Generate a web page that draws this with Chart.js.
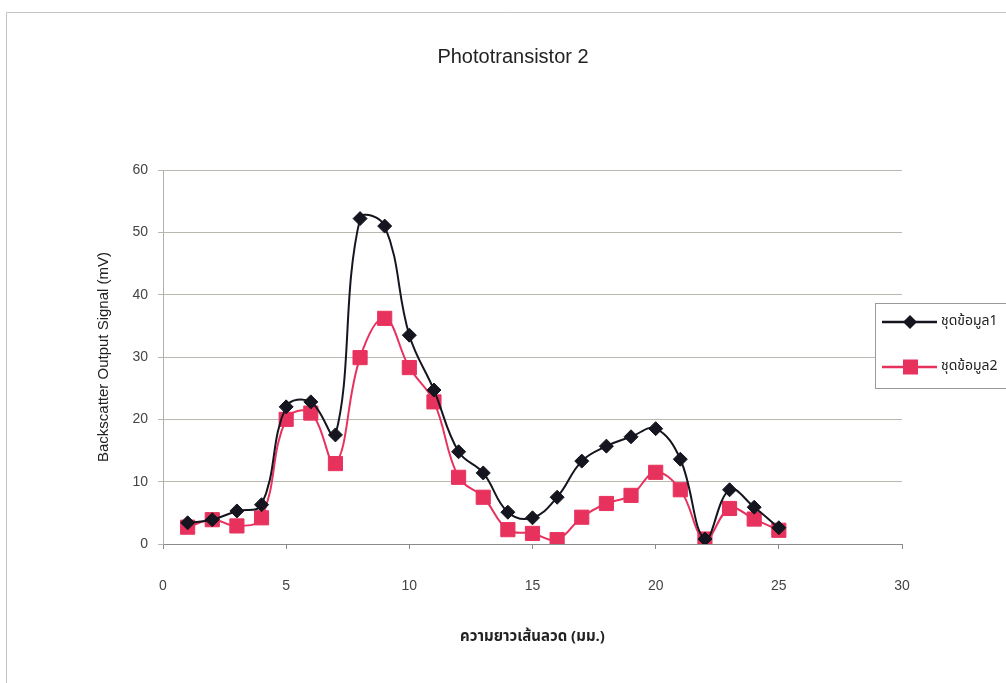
<!DOCTYPE html>
<html>
<head>
<meta charset="utf-8">
<script src="https://cdn.jsdelivr.net/npm/chart.js@4.4.1/dist/chart.umd.min.js"></script>
<style>
  html, body { margin: 0; padding: 0; background: #ffffff; }
  #wrap { position: relative; width: 1006px; height: 683px; }
  canvas { display: block; }
</style>
</head>
<body>
<div id="wrap"><canvas id="c" width="1006" height="683"></canvas></div>
<script>
// Wire length positions (mm)
const lengths = [1, 2, 3, 4, 5, 6, 7, 8, 9, 10, 11, 12, 13, 14, 15, 16, 17, 18, 19, 20, 21, 22, 23, 24, 25];

// Backscatter output signal (mV), two measurement sets
const set1 = [3.4, 3.9, 5.3, 6.3, 22.0, 22.8, 17.5, 52.2, 51.0, 33.5, 24.7, 14.8, 11.4,
              5.1, 4.2, 7.5, 13.3, 15.7, 17.2, 18.5, 13.6, 0.8, 8.7, 5.9, 2.6];
const set2 = [2.7, 3.9, 2.9, 4.2, 20.0, 21.0, 12.9, 29.9, 36.2, 28.3, 22.8, 10.7, 7.5,
              2.3, 1.7, 0.7, 4.3, 6.5, 7.8, 11.5, 8.7, 0.8, 5.7, 4.0, 2.2];

const seriesNames = ['ชุดข้อมูล1', 'ชุดข้อมูล2'];
const chartTitle = 'Phototransistor 2';
const xTitle = 'ความยาวเส้นลวด (มม.)';
const yTitle = 'Backscatter Output Signal (mV)';

const BLACK = '#15151f';
const RED = '#e8325e';
const FONT = '"Liberation Sans", Arial, sans-serif';
const THAI_FONT = '"Noto Sans Thai", "Noto Sans", "DejaVu Sans", sans-serif';

const toPoints = (ys) => lengths.map((x, i) => ({ x, y: ys[i] }));

// Page frame around the whole chart, plus the centred chart title
const framePlugin = {
  id: 'frame',
  beforeDraw(chart) {
    const ctx = chart.ctx;
    ctx.save();
    ctx.fillStyle = '#ffffff';
    ctx.fillRect(0, 0, chart.width, chart.height);
    ctx.strokeStyle = '#c4c4c4';
    ctx.lineWidth = 1;
    ctx.beginPath();
    ctx.moveTo(6.5, chart.height);
    ctx.lineTo(6.5, 12.5);
    ctx.lineTo(chart.width, 12.5);
    ctx.stroke();

    ctx.fillStyle = '#222222';
    ctx.font = '20px ' + FONT;
    ctx.textAlign = 'center';
    ctx.textBaseline = 'middle';
    ctx.fillText(chartTitle, 513, 57);
    ctx.restore();
  }
};

// Boxed legend at the right side, partly beyond the canvas edge
const boxLegendPlugin = {
  id: 'boxLegend',
  afterDraw(chart) {
    const ctx = chart.ctx;
    const bx = 875.5, by = 303.5, bw = 160, bh = 85;
    ctx.save();
    ctx.fillStyle = '#ffffff';
    ctx.fillRect(bx, by, bw, bh);
    ctx.strokeStyle = '#9a9a9a';
    ctx.lineWidth = 1;
    ctx.strokeRect(bx, by, bw, bh);
    chart.data.datasets.forEach((ds, i) => {
      const cy = 322 + i * 45;
      ctx.strokeStyle = ds.borderColor;
      ctx.lineWidth = 2.5;
      ctx.beginPath();
      ctx.moveTo(882, cy);
      ctx.lineTo(937, cy);
      ctx.stroke();
      ctx.fillStyle = ds.pointBackgroundColor;
      if (ds.pointStyle === 'rectRot') {
        const r = 7;
        ctx.beginPath();
        ctx.moveTo(910 - r, cy);
        ctx.lineTo(910, cy - r);
        ctx.lineTo(910 + r, cy);
        ctx.lineTo(910, cy + r);
        ctx.closePath();
        ctx.fill();
      } else {
        ctx.fillRect(903, cy - 7.5, 15, 15);
      }
      ctx.fillStyle = '#222222';
      ctx.font = '14px ' + THAI_FONT;
      ctx.textBaseline = 'middle';
      ctx.textAlign = 'left';
      ctx.fillText(ds.label, 941, cy);
    });
    ctx.restore();
  }
};

new Chart(document.getElementById('c'), {
  type: 'line',
  data: {
    datasets: [
      {
        label: seriesNames[0],
        data: toPoints(set1),
        borderColor: BLACK,
        backgroundColor: BLACK,
        pointBackgroundColor: BLACK,
        pointBorderColor: BLACK,
        pointStyle: 'rectRot',
        pointRadius: 7,
        pointBorderWidth: 1,
        borderWidth: 2,
        tension: 0.4,
        fill: false
      },
      {
        label: seriesNames[1],
        data: toPoints(set2),
        borderColor: RED,
        backgroundColor: RED,
        pointBackgroundColor: RED,
        pointBorderColor: RED,
        pointStyle: 'rect',
        pointRadius: 10,
        pointBorderWidth: 1,
        borderWidth: 2,
        tension: 0.4,
        fill: false
      }
    ]
  },
  options: {
    responsive: false,
    animation: false,
    devicePixelRatio: 1,
    layout: { padding: { top: 170, left: 0, right: 104, bottom: 0 } },
    plugins: {
      legend: { display: false },
      tooltip: { enabled: false },
      title: { display: false }
    },
    scales: {
      x: {
        type: 'linear',
        min: 0,
        max: 30,
        afterFit(scale) { scale.height = 683 - 544; },
        ticks: {
          stepSize: 5,
          padding: 29,
          color: '#444444',
          font: { family: FONT, size: 14 }
        },
        grid: {
          drawOnChartArea: false,
          drawTicks: true,
          tickLength: 5,
          color: '#8a8a8a'
        },
        border: { display: true, color: '#8a8a8a', width: 1 },
        title: {
          display: true,
          text: xTitle,
          color: '#222222',
          font: { family: THAI_FONT, size: 15, weight: 'bold' },
          padding: { top: 0, bottom: 36 }
        }
      },
      y: {
        min: 0,
        max: 60,
        afterFit(scale) { scale.width = 163; },
        ticks: {
          stepSize: 10,
          padding: 10,
          color: '#444444',
          font: { family: FONT, size: 14 }
        },
        grid: {
          drawOnChartArea: true,
          drawTicks: true,
          tickLength: 5,
          color: '#b8b8b0'
        },
        border: { display: true, color: '#b0b0b0', width: 1 },
        title: {
          display: true,
          text: yTitle,
          color: '#222222',
          font: { family: FONT, size: 15 },
          padding: { top: 95, bottom: 0 }
        }
      }
    }
  },
  plugins: [framePlugin, boxLegendPlugin]
});
</script>
</body>
</html>
